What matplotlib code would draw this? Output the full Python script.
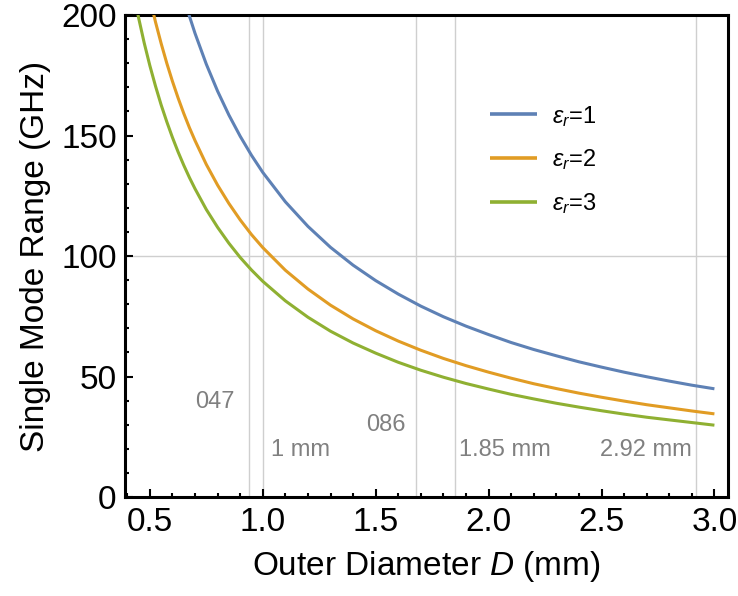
import matplotlib
matplotlib.use("Agg")
import matplotlib.pyplot as plt
from matplotlib.ticker import MultipleLocator

plt.rcParams["font.family"] = ["Liberation Sans", "DejaVu Sans"]
plt.rcParams["mathtext.fontset"] = "custom"
plt.rcParams["mathtext.rm"] = "Liberation Sans"
plt.rcParams["mathtext.it"] = "Liberation Sans:italic"

# Outer diameter D (mm)
diameter = [0.40, 0.425, 0.45, 0.475, 0.50, 0.525, 0.55, 0.575, 0.60, 0.625,
            0.65, 0.675, 0.70, 0.75, 0.80, 0.85, 0.90, 0.95, 1.0, 1.1,
            1.2, 1.3, 1.4, 1.5, 1.6, 1.7, 1.8, 1.9, 2.0, 2.1,
            2.2, 2.3, 2.4, 2.5, 2.6, 2.7, 2.8, 2.9, 3.0]

# Single-mode range (GHz) for each dielectric constant
range_er1 = [336.8, 316.9, 299.3, 283.6, 269.4, 256.6, 244.9, 234.3, 224.5, 215.5,
             207.2, 199.6, 192.4, 179.6, 168.4, 158.5, 149.7, 141.8, 134.7, 122.5,
             112.3, 103.6, 96.2, 89.8, 84.2, 79.2, 74.8, 70.9, 67.4, 64.1,
             61.2, 58.6, 56.1, 53.9, 51.8, 49.9, 48.1, 46.4, 44.9]
range_er2 = [258.8, 243.5, 230.0, 217.9, 207.0, 197.1, 188.2, 180.0, 172.5, 165.6,
             159.2, 153.3, 147.9, 138.0, 129.4, 121.8, 115.0, 108.9, 103.5, 94.1,
             86.3, 79.6, 73.9, 69.0, 64.7, 60.9, 57.5, 54.5, 51.8, 49.3,
             47.0, 45.0, 43.1, 41.4, 39.8, 38.3, 37.0, 35.7, 34.5]
range_er3 = [223.8, 210.6, 198.9, 188.4, 179.0, 170.5, 162.7, 155.7, 149.2, 143.2,
             137.7, 132.6, 127.9, 119.3, 111.9, 105.3, 99.4, 94.2, 89.5, 81.4,
             74.6, 68.8, 63.9, 59.7, 55.9, 52.6, 49.7, 47.1, 44.8, 42.6,
             40.7, 38.9, 37.3, 35.8, 34.4, 33.1, 32.0, 30.9, 29.8]

series_labels = [r"$\epsilon_r$=1", r"$\epsilon_r$=2", r"$\epsilon_r$=3"]
series_colors = ["#5E81B5", "#E19C24", "#8FB032"]

# Standard connector sizes (mm) and their labels
connector_d = [0.94, 1.0, 1.68, 1.85, 2.92]
connector_labels = ["047", "1 mm", "086", "1.85 mm", "2.92 mm"]
label_x = [0.79, 1.165, 1.545, 2.07, 2.695]
label_y = [39.5, 19.5, 30.0, 19.5, 19.5]

fig = plt.figure(figsize=(7.38, 5.96), dpi=100)
ax = fig.add_axes([0.1694, 0.1661, 0.8170, 0.8087])

grid_color = "#cfcfcf"
for d in connector_d:
    ax.axvline(d, color=grid_color, lw=1.0, zorder=1)
ax.axhline(100, color=grid_color, lw=1.0, zorder=1)

for vals, lab, col in zip([range_er1, range_er2, range_er3], series_labels, series_colors):
    ax.plot(diameter, vals, color=col, lw=2.2, label=lab, zorder=3,
            solid_capstyle="butt", solid_joinstyle="round")

for tx, ty, t in zip(label_x, label_y, connector_labels):
    ax.text(tx, ty, t, color="#808080", fontsize=17, ha="center", va="center")

ax.set_xlim(0.39, 3.06)
ax.set_ylim(0, 200)
ax.xaxis.set_major_locator(MultipleLocator(0.5))
ax.xaxis.set_minor_locator(MultipleLocator(0.1))
ax.yaxis.set_major_locator(MultipleLocator(50))
ax.yaxis.set_minor_locator(MultipleLocator(10))
ax.xaxis.set_major_formatter(matplotlib.ticker.FormatStrFormatter("%.1f"))

ax.tick_params(which="both", direction="in", top=False, right=False,
               labelsize=24, width=1.5, colors="black")
ax.tick_params(which="major", length=6)
ax.tick_params(which="minor", length=3.2)
ax.tick_params(axis="y", pad=6)
ax.tick_params(axis="x", pad=7)
for s in ax.spines.values():
    s.set_linewidth(2.2)

ax.set_xlabel(r"Outer Diameter $D$ (mm)", fontsize=24, labelpad=8)
ax.set_ylabel("Single Mode Range (GHz)", fontsize=24, labelpad=7)

leg = ax.legend(loc="upper left", bbox_to_anchor=(0.605, 0.816), frameon=False,
                fontsize=17, handlelength=2.0, handletextpad=0.65,
                labelspacing=0.8, borderpad=0, borderaxespad=0)
for h in leg.get_lines():
    h.set_linewidth(2.6)

fig.savefig("out.png", dpi=100)
